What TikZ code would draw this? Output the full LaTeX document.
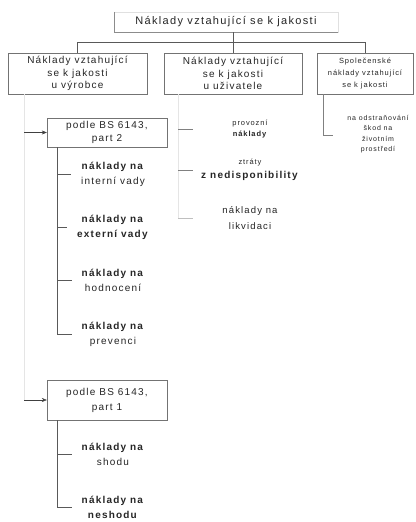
\documentclass[tikz,border=0pt]{standalone}
\usepackage{fontspec}
\setmainfont{Liberation Sans}[LetterSpace=12]
\usetikzlibrary{
  arrows.meta,
  positioning,  % Function "of" (e.g. [right=of x])
}
\tikzset{
  font=\fontsize{10}{12.5}\selectfont,
  line width=0.8pt,
  >={Stealth[length=5pt,width=4pt]},
  my box/.style={
    draw=black!55,
    rectangle,
    align=center,
    text=black!85,
    inner sep=1pt,
    minimum height=41pt
  },
  my title/.style={
    draw=black!12,
    rectangle,
    text=black!85,
    font=\fontsize{11}{13}\selectfont,
    minimum width=224pt,
    minimum height=20pt
  },
  my leaf/.style={
    align=center,
    text=black!85,
    inner sep=4pt,
    font=\fontsize{10}{15}\selectfont
  },
  my branch leaf/.style={
    my leaf,
    inner xsep=10pt
  },
  my small leaf/.style={
    my leaf,
    font=\fontsize{7.5}{11}\selectfont
  },
  my spine/.style={draw=black!65},
  my faint/.style={draw=black!10},
  my tick/.style={draw=black!50}
}
\begin{document}
\begin{tikzpicture}[x=1pt,y=-1pt]
\useasboundingbox[fill=white] (0,0) rectangle (415,522);
% top level
\node[my title] (top) at (226,22) {Náklady vztahující se k jakosti};
\draw[draw=black!45] (top.north west) -- (top.south west) -- (top.south east);
\node[my box,minimum width=139pt] (vyr)  at (77.5,73.5) {Náklady vztahující\\se k jakosti\\u výrobce};
\node[my box,minimum width=138pt] (uziv) at (233,73.5)  {Náklady vztahující\\se k jakosti\\u uživatele};
\node[my box,minimum width=96pt,font=\fontsize{7.5}{12}\selectfont]
                                  (spol) at (365,73.5)  {Společenské\\náklady vztahující\\se k jakosti};
\draw[my spine] (top.south -| uziv) -- (uziv.north);
\draw[my spine] (vyr.north) -- ++(0,-10.5) -| (spol.north);
% u vyrobce
\coordinate (rail)    at (24,94);
\coordinate (railend) at (24,400);
\draw[my faint] (rail) -- (railend);
\node[my box,minimum width=120pt,minimum height=29pt,font=\fontsize{10}{13}\selectfont]
                     (p2) at (107,132.5) {podle BS 6143,\\part 2};
\node[my box,minimum width=120pt,minimum height=40pt,font=\fontsize{10}{15}\selectfont]
                     (p1) at (107,400)   {podle BS 6143,\\part 1};
\draw[->,black!75] (rail |- p2.west) -- (p2.west);
\draw[->,black!75] (rail |- p1.west) -- (p1.west);
\node[my branch leaf] (int)  at (113,174) {\textbf{náklady na}\\interní vady};
\node[my branch leaf] (ext)  at (113,227) {\textbf{náklady na}\\\textbf{externí vady}};
\node[my branch leaf] (hod)  at (113,280) {\textbf{náklady na}\\hodnocení};
\node[my branch leaf] (prev) at (113,334) {\textbf{náklady na}\\prevenci};
\node[my branch leaf] (sho)  at (113,454) {\textbf{náklady na}\\shodu};
\node[my branch leaf] (nesh) at (113,507) {\textbf{náklady na}\\\textbf{neshodu}};
\coordinate (sp2) at (57,0);
\draw[my spine] (p2.south -| sp2) |- (int.west)
                (p2.south -| sp2) |- (ext.west)
                (p2.south -| sp2) |- (hod.west)
                (p2.south -| sp2) |- (prev.west);
\draw[my spine] (p1.south -| sp2) |- (sho.west)
                (p1.south -| sp2) |- (nesh.west);
% u uzivatele
\node[my small leaf] (prov) at (250,129) {provozní\\\textbf{náklady}};
\node[my leaf,font=\fontsize{7.5}{14}\selectfont]
                     (ztr)  at (250,170) {ztráty\\\fontsize{10}{14}\selectfont\textbf{z nedisponibility}};
\node[my leaf,font=\fontsize{9.5}{16}\selectfont]
                     (likv) at (250,218) {náklady na\\likvidaci};
\coordinate (sp3) at (178,0);
\draw[my faint] (uziv.south -| sp3) -- (sp3 |- likv);
\draw[my tick] (sp3 |- prov) -- ++(15,0);
\draw[my tick] (sp3 |- ztr)  -- ++(15,0);
\draw[my tick,draw=black!25] (sp3 |- likv) -- ++(15,0);
% spolecenske
\node[my leaf,font=\fontsize{7}{10.5}\selectfont]
                     (odst) at (378,134) {na odstraňování\\škod na\\životním\\prostředí};
\coordinate (sp4) at (323,0);
\draw[my spine,draw=black!50] (spol.south -| sp4) |- (333,135);
\end{tikzpicture}
\end{document}
